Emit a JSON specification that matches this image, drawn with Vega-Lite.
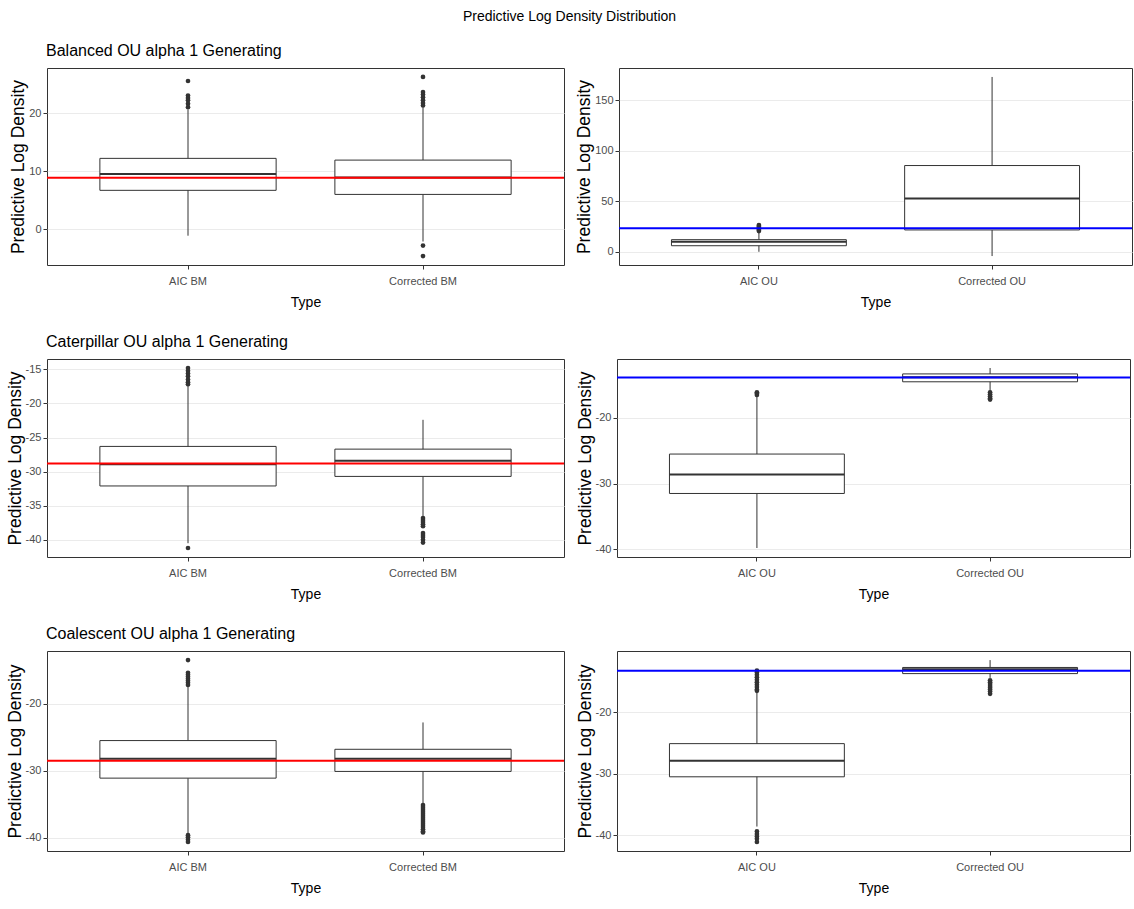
{
  "$schema": "https://vega.github.io/schema/vega-lite/v6.json",
  "background": "white",
  "padding": {"left": 5, "top": 9, "right": 0, "bottom": 0},
  "title": {
    "text": "Predictive Log Density Distribution",
    "anchor": "middle",
    "frame": "bounds",
    "fontSize": 14,
    "offset": 19
  },
  "datasets": {
    "stats": [
      {"panel": "P1", "Type": "AIC BM", "lower": -1.1, "q1": 6.7, "median": 9.5, "q3": 12.2, "upper": 20.6},
      {"panel": "P1", "Type": "Corrected BM", "lower": -2.1, "q1": 6.0, "median": 8.9, "q3": 11.9, "upper": 21.0},
      {"panel": "P2", "Type": "AIC OU", "lower": 0.0, "q1": 6.0, "median": 10.0, "q3": 12.0, "upper": 19.5},
      {"panel": "P2", "Type": "Corrected OU", "lower": -4.2, "q1": 21.6, "median": 52.6, "q3": 85.3, "upper": 172.9},
      {"panel": "P3", "Type": "AIC BM", "lower": -40.5, "q1": -32.1, "median": -28.9, "q3": -26.3, "upper": -17.5},
      {"panel": "P3", "Type": "Corrected BM", "lower": -36.5, "q1": -30.7, "median": -28.4, "q3": -26.7, "upper": -22.4},
      {"panel": "P4", "Type": "AIC OU", "lower": -39.8, "q1": -31.5, "median": -28.6, "q3": -25.5, "upper": -16.8},
      {"panel": "P4", "Type": "Corrected OU", "lower": -15.9, "q1": -14.5, "median": -13.8, "q3": -13.3, "upper": -12.4},
      {"panel": "P5", "Type": "AIC BM", "lower": -39.3, "q1": -31.1, "median": -28.2, "q3": -25.5, "upper": -17.4},
      {"panel": "P5", "Type": "Corrected BM", "lower": -34.9, "q1": -30.1, "median": -28.2, "q3": -26.8, "upper": -22.8},
      {"panel": "P6", "Type": "AIC OU", "lower": -38.6, "q1": -30.5, "median": -27.9, "q3": -25.1, "upper": -16.8},
      {"panel": "P6", "Type": "Corrected OU", "lower": -14.4, "q1": -13.7, "median": -13.0, "q3": -12.7, "upper": -11.5}
    ],
    "outliers": [
      {"panel": "P1", "Type": "AIC BM", "value": 25.5},
      {"panel": "P1", "Type": "AIC BM", "value": 23.0},
      {"panel": "P1", "Type": "AIC BM", "value": 22.6},
      {"panel": "P1", "Type": "AIC BM", "value": 22.2},
      {"panel": "P1", "Type": "AIC BM", "value": 21.6},
      {"panel": "P1", "Type": "AIC BM", "value": 21.0},
      {"panel": "P1", "Type": "Corrected BM", "value": 26.2},
      {"panel": "P1", "Type": "Corrected BM", "value": 23.6},
      {"panel": "P1", "Type": "Corrected BM", "value": 23.2},
      {"panel": "P1", "Type": "Corrected BM", "value": 22.7},
      {"panel": "P1", "Type": "Corrected BM", "value": 22.2},
      {"panel": "P1", "Type": "Corrected BM", "value": 21.7},
      {"panel": "P1", "Type": "Corrected BM", "value": 21.3},
      {"panel": "P1", "Type": "Corrected BM", "value": -2.8},
      {"panel": "P1", "Type": "Corrected BM", "value": -4.6},
      {"panel": "P2", "Type": "AIC OU", "value": 20.5},
      {"panel": "P2", "Type": "AIC OU", "value": 21.5},
      {"panel": "P2", "Type": "AIC OU", "value": 22.5},
      {"panel": "P2", "Type": "AIC OU", "value": 23.5},
      {"panel": "P2", "Type": "AIC OU", "value": 24.5},
      {"panel": "P2", "Type": "AIC OU", "value": 25.5},
      {"panel": "P2", "Type": "AIC OU", "value": 26.5},
      {"panel": "P3", "Type": "AIC BM", "value": -14.8},
      {"panel": "P3", "Type": "AIC BM", "value": -15.2},
      {"panel": "P3", "Type": "AIC BM", "value": -15.6},
      {"panel": "P3", "Type": "AIC BM", "value": -16.0},
      {"panel": "P3", "Type": "AIC BM", "value": -16.5},
      {"panel": "P3", "Type": "AIC BM", "value": -16.9},
      {"panel": "P3", "Type": "AIC BM", "value": -17.2},
      {"panel": "P3", "Type": "AIC BM", "value": -41.2},
      {"panel": "P3", "Type": "Corrected BM", "value": -36.8},
      {"panel": "P3", "Type": "Corrected BM", "value": -37.1},
      {"panel": "P3", "Type": "Corrected BM", "value": -37.4},
      {"panel": "P3", "Type": "Corrected BM", "value": -37.7},
      {"panel": "P3", "Type": "Corrected BM", "value": -38.0},
      {"panel": "P3", "Type": "Corrected BM", "value": -39.0},
      {"panel": "P3", "Type": "Corrected BM", "value": -39.3},
      {"panel": "P3", "Type": "Corrected BM", "value": -39.6},
      {"panel": "P3", "Type": "Corrected BM", "value": -40.0},
      {"panel": "P3", "Type": "Corrected BM", "value": -40.4},
      {"panel": "P4", "Type": "AIC OU", "value": -16.1},
      {"panel": "P4", "Type": "AIC OU", "value": -16.3},
      {"panel": "P4", "Type": "AIC OU", "value": -16.5},
      {"panel": "P4", "Type": "Corrected OU", "value": -16.1},
      {"panel": "P4", "Type": "Corrected OU", "value": -16.4},
      {"panel": "P4", "Type": "Corrected OU", "value": -16.7},
      {"panel": "P4", "Type": "Corrected OU", "value": -17.0},
      {"panel": "P4", "Type": "Corrected OU", "value": -17.2},
      {"panel": "P5", "Type": "AIC BM", "value": -13.5},
      {"panel": "P5", "Type": "AIC BM", "value": -15.4},
      {"panel": "P5", "Type": "AIC BM", "value": -15.7},
      {"panel": "P5", "Type": "AIC BM", "value": -16.0},
      {"panel": "P5", "Type": "AIC BM", "value": -16.3},
      {"panel": "P5", "Type": "AIC BM", "value": -16.6},
      {"panel": "P5", "Type": "AIC BM", "value": -16.9},
      {"panel": "P5", "Type": "AIC BM", "value": -17.2},
      {"panel": "P5", "Type": "AIC BM", "value": -39.6},
      {"panel": "P5", "Type": "AIC BM", "value": -39.9},
      {"panel": "P5", "Type": "AIC BM", "value": -40.3},
      {"panel": "P5", "Type": "AIC BM", "value": -40.6},
      {"panel": "P5", "Type": "Corrected BM", "value": -35.1},
      {"panel": "P5", "Type": "Corrected BM", "value": -35.4},
      {"panel": "P5", "Type": "Corrected BM", "value": -35.7},
      {"panel": "P5", "Type": "Corrected BM", "value": -36.0},
      {"panel": "P5", "Type": "Corrected BM", "value": -36.3},
      {"panel": "P5", "Type": "Corrected BM", "value": -36.6},
      {"panel": "P5", "Type": "Corrected BM", "value": -36.9},
      {"panel": "P5", "Type": "Corrected BM", "value": -37.2},
      {"panel": "P5", "Type": "Corrected BM", "value": -37.5},
      {"panel": "P5", "Type": "Corrected BM", "value": -37.8},
      {"panel": "P5", "Type": "Corrected BM", "value": -38.1},
      {"panel": "P5", "Type": "Corrected BM", "value": -38.4},
      {"panel": "P5", "Type": "Corrected BM", "value": -38.7},
      {"panel": "P5", "Type": "Corrected BM", "value": -39.0},
      {"panel": "P5", "Type": "Corrected BM", "value": -39.2},
      {"panel": "P6", "Type": "AIC OU", "value": -13.2},
      {"panel": "P6", "Type": "AIC OU", "value": -13.5},
      {"panel": "P6", "Type": "AIC OU", "value": -13.9},
      {"panel": "P6", "Type": "AIC OU", "value": -14.3},
      {"panel": "P6", "Type": "AIC OU", "value": -14.7},
      {"panel": "P6", "Type": "AIC OU", "value": -15.1},
      {"panel": "P6", "Type": "AIC OU", "value": -15.5},
      {"panel": "P6", "Type": "AIC OU", "value": -15.9},
      {"panel": "P6", "Type": "AIC OU", "value": -16.3},
      {"panel": "P6", "Type": "AIC OU", "value": -16.5},
      {"panel": "P6", "Type": "AIC OU", "value": -39.4},
      {"panel": "P6", "Type": "AIC OU", "value": -39.8},
      {"panel": "P6", "Type": "AIC OU", "value": -40.2},
      {"panel": "P6", "Type": "AIC OU", "value": -40.6},
      {"panel": "P6", "Type": "AIC OU", "value": -41.1},
      {"panel": "P6", "Type": "Corrected OU", "value": -14.8},
      {"panel": "P6", "Type": "Corrected OU", "value": -15.1},
      {"panel": "P6", "Type": "Corrected OU", "value": -15.4},
      {"panel": "P6", "Type": "Corrected OU", "value": -15.7},
      {"panel": "P6", "Type": "Corrected OU", "value": -16.0},
      {"panel": "P6", "Type": "Corrected OU", "value": -16.3},
      {"panel": "P6", "Type": "Corrected OU", "value": -16.6},
      {"panel": "P6", "Type": "Corrected OU", "value": -17.0}
    ],
    "refs": [
      {"panel": "P1", "value": 8.85},
      {"panel": "P2", "value": 23.2},
      {"panel": "P3", "value": -28.8},
      {"panel": "P4", "value": -13.85},
      {"panel": "P5", "value": -28.5},
      {"panel": "P6", "value": -13.25}
    ]
  },
  "vconcat": [
    {
      "title": {"text": "Balanced OU alpha 1 Generating", "anchor": "start", "frame": "group", "dx": -1},
      "spacing": 9,
      "hconcat": [
        {
          "width": 517, "height": 197,
          "resolve": {"axis": {"y": "independent"}},
          "layer": [
            {"data": {"name": "stats"}, "transform": [{"filter": "datum.panel === 'P1'"}],
             "mark": {"type": "rule", "color": "#333333", "strokeWidth": 1},
             "encoding": {
               "x": {"field": "Type", "type": "nominal", "title": "Type", "scale": {"type": "band", "paddingInner": 0.25, "paddingOuter": 0.225}},
               "y": {"field": "lower", "type": "quantitative", "title": "Predictive Log Density",
                     "scale": {"domain": [-6.14, 27.74], "nice": false, "zero": false},
                     "axis": {"values": [0, 10, 20], "labelExpr": "replace(datum.label, '\u2212', '-')"}},
               "y2": {"field": "upper"}}},
            {"data": {"name": "stats"}, "transform": [{"filter": "datum.panel === 'P1'"}],
             "mark": {"type": "bar", "fill": "white", "stroke": "#333333", "strokeWidth": 1},
             "encoding": {"x": {"field": "Type", "type": "nominal"}, "y": {"field": "q1", "type": "quantitative", "axis": null}, "y2": {"field": "q3"}}},
            {"data": {"name": "stats"}, "transform": [{"filter": "datum.panel === 'P1'"}],
             "mark": {"type": "bar", "fill": null, "stroke": "#333333", "strokeWidth": 2},
             "encoding": {"x": {"field": "Type", "type": "nominal"}, "y": {"field": "median", "type": "quantitative", "axis": null}, "y2": {"field": "median"}}},
            {"data": {"name": "outliers"}, "transform": [{"filter": "datum.panel === 'P1'"}],
             "mark": {"type": "point", "filled": true, "color": "#333333", "opacity": 1, "size": 22},
             "encoding": {"x": {"field": "Type", "type": "nominal"}, "y": {"field": "value", "type": "quantitative", "axis": null}}},
            {"data": {"name": "refs"}, "transform": [{"filter": "datum.panel === 'P1'"}],
             "mark": {"type": "rule", "color": "#FF0000", "strokeWidth": 2},
             "encoding": {"y": {"field": "value", "type": "quantitative",
                                "axis": {"orient": "right", "values": [-5, 5, 15, 25], "labels": false, "ticks": false, "title": null, "gridWidth": 0.5, "minExtent": 0, "maxExtent": 0}}}}
          ]
        },
        {
          "width": 513, "height": 197,
          "resolve": {"axis": {"y": "independent"}},
          "layer": [
            {"data": {"name": "stats"}, "transform": [{"filter": "datum.panel === 'P2'"}],
             "mark": {"type": "rule", "color": "#333333", "strokeWidth": 1},
             "encoding": {
               "x": {"field": "Type", "type": "nominal", "title": "Type", "scale": {"type": "band", "paddingInner": 0.25, "paddingOuter": 0.225}},
               "y": {"field": "lower", "type": "quantitative", "title": "Predictive Log Density",
                     "scale": {"domain": [-13.06, 181.76], "nice": false, "zero": false},
                     "axis": {"values": [0, 50, 100, 150], "labelExpr": "replace(datum.label, '\u2212', '-')"}},
               "y2": {"field": "upper"}}},
            {"data": {"name": "stats"}, "transform": [{"filter": "datum.panel === 'P2'"}],
             "mark": {"type": "bar", "fill": "white", "stroke": "#333333", "strokeWidth": 1},
             "encoding": {"x": {"field": "Type", "type": "nominal"}, "y": {"field": "q1", "type": "quantitative", "axis": null}, "y2": {"field": "q3"}}},
            {"data": {"name": "stats"}, "transform": [{"filter": "datum.panel === 'P2'"}],
             "mark": {"type": "bar", "fill": null, "stroke": "#333333", "strokeWidth": 2},
             "encoding": {"x": {"field": "Type", "type": "nominal"}, "y": {"field": "median", "type": "quantitative", "axis": null}, "y2": {"field": "median"}}},
            {"data": {"name": "outliers"}, "transform": [{"filter": "datum.panel === 'P2'"}],
             "mark": {"type": "point", "filled": true, "color": "#333333", "opacity": 1, "size": 22},
             "encoding": {"x": {"field": "Type", "type": "nominal"}, "y": {"field": "value", "type": "quantitative", "axis": null}}},
            {"data": {"name": "refs"}, "transform": [{"filter": "datum.panel === 'P2'"}],
             "mark": {"type": "rule", "color": "#0000FF", "strokeWidth": 2},
             "encoding": {"y": {"field": "value", "type": "quantitative",
                                "axis": {"orient": "right", "values": [25, 75, 125, 175], "labels": false, "ticks": false, "title": null, "gridWidth": 0.5, "minExtent": 0, "maxExtent": 0}}}}
          ]
        }
      ]
    },
    {
      "title": {"text": "Caterpillar OU alpha 1 Generating", "anchor": "start", "frame": "group", "dx": -1},
      "spacing": 9,
      "hconcat": [
        {
          "width": 517, "height": 198,
          "resolve": {"axis": {"y": "independent"}},
          "layer": [
            {"data": {"name": "stats"}, "transform": [{"filter": "datum.panel === 'P3'"}],
             "mark": {"type": "rule", "color": "#333333", "strokeWidth": 1},
             "encoding": {
               "x": {"field": "Type", "type": "nominal", "title": "Type", "scale": {"type": "band", "paddingInner": 0.25, "paddingOuter": 0.225}},
               "y": {"field": "lower", "type": "quantitative", "title": "Predictive Log Density",
                     "scale": {"domain": [-42.52, -13.48], "nice": false, "zero": false},
                     "axis": {"values": [-40, -35, -30, -25, -20, -15], "labelExpr": "replace(datum.label, '\u2212', '-')"}},
               "y2": {"field": "upper"}}},
            {"data": {"name": "stats"}, "transform": [{"filter": "datum.panel === 'P3'"}],
             "mark": {"type": "bar", "fill": "white", "stroke": "#333333", "strokeWidth": 1},
             "encoding": {"x": {"field": "Type", "type": "nominal"}, "y": {"field": "q1", "type": "quantitative", "axis": null}, "y2": {"field": "q3"}}},
            {"data": {"name": "stats"}, "transform": [{"filter": "datum.panel === 'P3'"}],
             "mark": {"type": "bar", "fill": null, "stroke": "#333333", "strokeWidth": 2},
             "encoding": {"x": {"field": "Type", "type": "nominal"}, "y": {"field": "median", "type": "quantitative", "axis": null}, "y2": {"field": "median"}}},
            {"data": {"name": "outliers"}, "transform": [{"filter": "datum.panel === 'P3'"}],
             "mark": {"type": "point", "filled": true, "color": "#333333", "opacity": 1, "size": 22},
             "encoding": {"x": {"field": "Type", "type": "nominal"}, "y": {"field": "value", "type": "quantitative", "axis": null}}},
            {"data": {"name": "refs"}, "transform": [{"filter": "datum.panel === 'P3'"}],
             "mark": {"type": "rule", "color": "#FF0000", "strokeWidth": 2},
             "encoding": {"y": {"field": "value", "type": "quantitative",
                                "axis": {"orient": "right", "values": [-37.5, -32.5, -27.5, -22.5, -17.5], "labels": false, "ticks": false, "title": null, "gridWidth": 0.5, "minExtent": 0, "maxExtent": 0}}}}
          ]
        },
        {
          "width": 513, "height": 198,
          "resolve": {"axis": {"y": "independent"}},
          "layer": [
            {"data": {"name": "stats"}, "transform": [{"filter": "datum.panel === 'P4'"}],
             "mark": {"type": "rule", "color": "#333333", "strokeWidth": 1},
             "encoding": {
               "x": {"field": "Type", "type": "nominal", "title": "Type", "scale": {"type": "band", "paddingInner": 0.25, "paddingOuter": 0.225}},
               "y": {"field": "lower", "type": "quantitative", "title": "Predictive Log Density",
                     "scale": {"domain": [-41.17, -11.03], "nice": false, "zero": false},
                     "axis": {"values": [-40, -30, -20], "labelExpr": "replace(datum.label, '\u2212', '-')"}},
               "y2": {"field": "upper"}}},
            {"data": {"name": "stats"}, "transform": [{"filter": "datum.panel === 'P4'"}],
             "mark": {"type": "bar", "fill": "white", "stroke": "#333333", "strokeWidth": 1},
             "encoding": {"x": {"field": "Type", "type": "nominal"}, "y": {"field": "q1", "type": "quantitative", "axis": null}, "y2": {"field": "q3"}}},
            {"data": {"name": "stats"}, "transform": [{"filter": "datum.panel === 'P4'"}],
             "mark": {"type": "bar", "fill": null, "stroke": "#333333", "strokeWidth": 2},
             "encoding": {"x": {"field": "Type", "type": "nominal"}, "y": {"field": "median", "type": "quantitative", "axis": null}, "y2": {"field": "median"}}},
            {"data": {"name": "outliers"}, "transform": [{"filter": "datum.panel === 'P4'"}],
             "mark": {"type": "point", "filled": true, "color": "#333333", "opacity": 1, "size": 22},
             "encoding": {"x": {"field": "Type", "type": "nominal"}, "y": {"field": "value", "type": "quantitative", "axis": null}}},
            {"data": {"name": "refs"}, "transform": [{"filter": "datum.panel === 'P4'"}],
             "mark": {"type": "rule", "color": "#0000FF", "strokeWidth": 2},
             "encoding": {"y": {"field": "value", "type": "quantitative",
                                "axis": {"orient": "right", "values": [-35, -25, -15], "labels": false, "ticks": false, "title": null, "gridWidth": 0.5, "minExtent": 0, "maxExtent": 0}}}}
          ]
        }
      ]
    },
    {
      "title": {"text": "Coalescent OU alpha 1 Generating", "anchor": "start", "frame": "group", "dx": -1},
      "spacing": 9,
      "hconcat": [
        {
          "width": 517, "height": 200,
          "resolve": {"axis": {"y": "independent"}},
          "layer": [
            {"data": {"name": "stats"}, "transform": [{"filter": "datum.panel === 'P5'"}],
             "mark": {"type": "rule", "color": "#333333", "strokeWidth": 1},
             "encoding": {
               "x": {"field": "Type", "type": "nominal", "title": "Type", "scale": {"type": "band", "paddingInner": 0.25, "paddingOuter": 0.225}},
               "y": {"field": "lower", "type": "quantitative", "title": "Predictive Log Density",
                     "scale": {"domain": [-41.96, -12.15], "nice": false, "zero": false},
                     "axis": {"values": [-40, -30, -20], "labelExpr": "replace(datum.label, '\u2212', '-')"}},
               "y2": {"field": "upper"}}},
            {"data": {"name": "stats"}, "transform": [{"filter": "datum.panel === 'P5'"}],
             "mark": {"type": "bar", "fill": "white", "stroke": "#333333", "strokeWidth": 1},
             "encoding": {"x": {"field": "Type", "type": "nominal"}, "y": {"field": "q1", "type": "quantitative", "axis": null}, "y2": {"field": "q3"}}},
            {"data": {"name": "stats"}, "transform": [{"filter": "datum.panel === 'P5'"}],
             "mark": {"type": "bar", "fill": null, "stroke": "#333333", "strokeWidth": 2},
             "encoding": {"x": {"field": "Type", "type": "nominal"}, "y": {"field": "median", "type": "quantitative", "axis": null}, "y2": {"field": "median"}}},
            {"data": {"name": "outliers"}, "transform": [{"filter": "datum.panel === 'P5'"}],
             "mark": {"type": "point", "filled": true, "color": "#333333", "opacity": 1, "size": 22},
             "encoding": {"x": {"field": "Type", "type": "nominal"}, "y": {"field": "value", "type": "quantitative", "axis": null}}},
            {"data": {"name": "refs"}, "transform": [{"filter": "datum.panel === 'P5'"}],
             "mark": {"type": "rule", "color": "#FF0000", "strokeWidth": 2},
             "encoding": {"y": {"field": "value", "type": "quantitative",
                                "axis": {"orient": "right", "values": [-35, -25, -15], "labels": false, "ticks": false, "title": null, "gridWidth": 0.5, "minExtent": 0, "maxExtent": 0}}}}
          ]
        },
        {
          "width": 513, "height": 200,
          "resolve": {"axis": {"y": "independent"}},
          "layer": [
            {"data": {"name": "stats"}, "transform": [{"filter": "datum.panel === 'P6'"}],
             "mark": {"type": "rule", "color": "#333333", "strokeWidth": 1},
             "encoding": {
               "x": {"field": "Type", "type": "nominal", "title": "Type", "scale": {"type": "band", "paddingInner": 0.25, "paddingOuter": 0.225}},
               "y": {"field": "lower", "type": "quantitative", "title": "Predictive Log Density",
                     "scale": {"domain": [-42.58, -10.02], "nice": false, "zero": false},
                     "axis": {"values": [-40, -30, -20], "labelExpr": "replace(datum.label, '\u2212', '-')"}},
               "y2": {"field": "upper"}}},
            {"data": {"name": "stats"}, "transform": [{"filter": "datum.panel === 'P6'"}],
             "mark": {"type": "bar", "fill": "white", "stroke": "#333333", "strokeWidth": 1},
             "encoding": {"x": {"field": "Type", "type": "nominal"}, "y": {"field": "q1", "type": "quantitative", "axis": null}, "y2": {"field": "q3"}}},
            {"data": {"name": "stats"}, "transform": [{"filter": "datum.panel === 'P6'"}],
             "mark": {"type": "bar", "fill": null, "stroke": "#333333", "strokeWidth": 2},
             "encoding": {"x": {"field": "Type", "type": "nominal"}, "y": {"field": "median", "type": "quantitative", "axis": null}, "y2": {"field": "median"}}},
            {"data": {"name": "outliers"}, "transform": [{"filter": "datum.panel === 'P6'"}],
             "mark": {"type": "point", "filled": true, "color": "#333333", "opacity": 1, "size": 22},
             "encoding": {"x": {"field": "Type", "type": "nominal"}, "y": {"field": "value", "type": "quantitative", "axis": null}}},
            {"data": {"name": "refs"}, "transform": [{"filter": "datum.panel === 'P6'"}],
             "mark": {"type": "rule", "color": "#0000FF", "strokeWidth": 2},
             "encoding": {"y": {"field": "value", "type": "quantitative",
                                "axis": {"orient": "right", "values": [-35, -25, -15], "labels": false, "ticks": false, "title": null, "gridWidth": 0.5, "minExtent": 0, "maxExtent": 0}}}}
          ]
        }
      ]
    }
  ],
  "spacing": 23,
  "config": {
    "view": {"stroke": "#333333", "strokeWidth": 1},
    "title": {"font": "Liberation Sans, Arial, sans-serif", "fontSize": 16, "fontWeight": "normal", "color": "#000000", "offset": 9},
    "axis": {
      "domain": false,
      "tickColor": "#333333",
      "tickSize": 4,
      "labelColor": "#4D4D4D",
      "labelFont": "Liberation Sans, Arial, sans-serif",
      "labelFontSize": 11,
      "labelOverlap": false,
      "gridColor": "#EBEBEB",
      "gridWidth": 1,
      "titleColor": "#000000",
      "titleFontWeight": "normal"
    },
    "axisY": {"titleFont": "Liberation Sans, Arial, sans-serif", "titleFontSize": 17.5, "labelPadding": 2, "titlePadding": 1},
    "axisX": {"titleFont": "Liberation Sans, Arial, sans-serif", "titleFontSize": 14, "labelPadding": 6, "titlePadding": 9, "labelAngle": 0, "bandPosition": 0.5}
  }
}
